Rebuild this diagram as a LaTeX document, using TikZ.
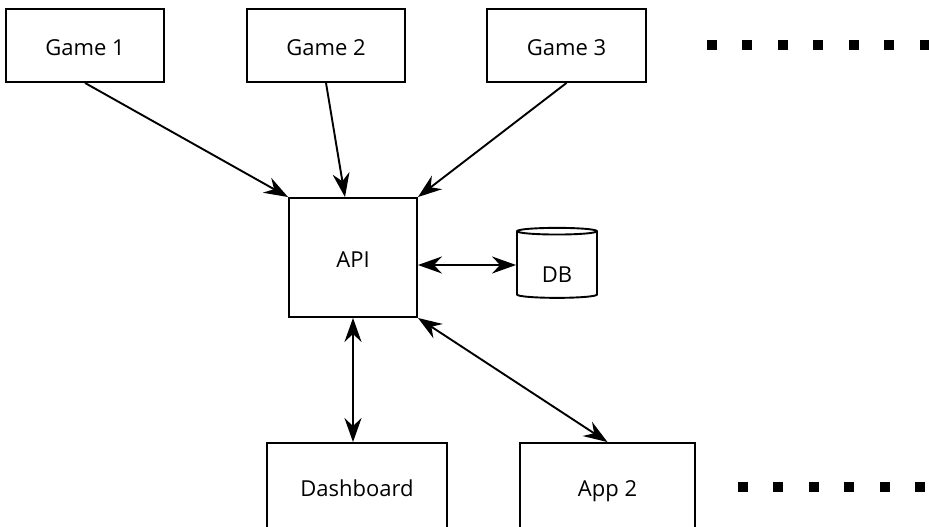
\documentclass[tikz,border=0pt]{standalone}
\usepackage{fontspec}
\setmainfont{Open Sans}
\usetikzlibrary{arrows.meta,shapes.geometric}

\begin{document}
\begin{tikzpicture}[x=1pt,y=-1pt,line width=1.9pt,
  head/.tip={Stealth[length=24pt,width=17pt,inset=8pt]},
  font=\fontsize{22}{26}\selectfont,
  box/.style={draw,rectangle,inner sep=0pt,minimum height=73pt,text height=24pt,text depth=4pt},
  more/.style={line width=10pt,dash pattern=on 10pt off 25.5pt}]
\clip (0,0) rectangle (929,527);
\fill[white] (0,0) rectangle (929,527);
\node [box,minimum width=158pt] (g1) at (85,45.5) {Game 1};
\node [box,minimum width=158pt] (g2) at (326,45.5) {Game 2};
\node [box,minimum width=159pt] (g3) at (566.5,45.5) {Game 3};
\node [box,minimum width=128pt,minimum height=119pt] (api) at (353,257.5) {API};
\node [draw,cylinder,shape border rotate=90,aspect=0.22,minimum width=80pt,minimum height=70pt,inner sep=0pt,text height=38pt,text depth=4pt] (db) at (557,265) {DB};
\node [box,minimum width=180pt,minimum height=86pt] (dash) at (357,486) {Dashboard};
\node [box,minimum width=175pt,minimum height=86pt] (app2) at (607.5,486) {App 2};
\path[-head] (g1.south) edge (api.north west);
\path[-head] (g2.south) edge ([xshift=-8pt]api.north);
\path[-head] (g3.south) edge (api.north east);
\path[head-head] (db.west -| api.east) edge (db.west);
\path[head-head] (api.south) edge (api.south |- dash.north);
\path[head-head] (api.south east) edge (app2.north);
% more games / apps
\draw[more] ([xshift=60pt]g3.east) -- ++(235,0);
\draw[more] ([xshift=42pt,yshift=-1pt]app2.east) -- ++(200,0);
\end{tikzpicture}
\end{document}
